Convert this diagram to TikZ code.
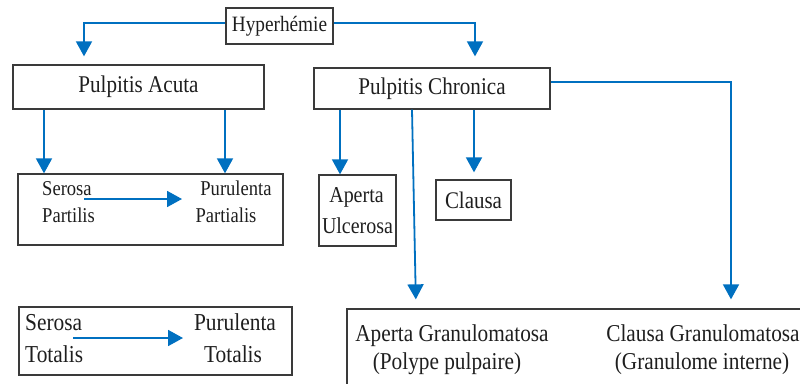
\documentclass[tikz,border=0pt]{standalone}
\usepackage{fontspec}
\setmainfont[FakeStretch=0.88]{Liberation Serif}
\usetikzlibrary{arrows.meta}
\definecolor{arrblue}{HTML}{0070C0}
\definecolor{boxgray}{HTML}{3A3A3A}
\definecolor{txtgray}{HTML}{1E1E1E}
\newcommand\setfs[1]{\fontsize{#1pt}{#1pt}\selectfont}
\begin{document}
\begin{tikzpicture}[x=1pt,y=-1pt,
  box/.style={draw=boxgray,line width=1.3pt,inner sep=0pt,text=txtgray},
  lbl/.style={inner sep=0pt,text=txtgray,anchor=base},
  arr/.style={draw=arrblue,line width=1.8pt,-{Triangle[width=16pt,length=15pt]}},
]
\useasboundingbox (0,0) rectangle (800,383);
\clip (0,0) rectangle (800,383);

% boxes
\node[box,minimum width=107pt,minimum height=36pt] (hyp) at (279.5,26) {\setfs{21.9}Hyperhémie};
\node[box,minimum width=251pt,minimum height=44pt] (acuta) at (138.5,87) {\setfs{24}Pulpitis Acuta};
\node[box,minimum width=236pt,minimum height=41pt] (chron) at (432,88.5) {\setfs{24}Pulpitis Chronica};
\node[box,minimum width=265pt,minimum height=71pt] (part) at (150.5,209.5) {};
\node[box,minimum width=77pt,minimum height=71pt] (ulc) at (357.5,210.5) {};
\node[box,minimum width=75pt,minimum height=40pt] (clausa) at (473.5,200) {\setfs{23.8}Clausa};
\node[box,minimum width=273pt,minimum height=68pt] (tot) at (155.5,341) {};
\node[box,minimum width=483pt,minimum height=91pt] (gran) at (588.5,354.5) {};

% texts
\node[lbl,anchor=base west,font={\setfs{21.1}}] (serP1) at (42,195) {Serosa};
\node[lbl,anchor=base west,font={\setfs{21.1}}] (serP2) at (42,222) {Partilis};
\node[lbl,font={\setfs{21.1}}] (purP1) at (236,195) {Purulenta};
\node[lbl,font={\setfs{21.1}}] (purP2) at (226,222) {Partialis};

\node[lbl,font={\setfs{22.7}}] (ulc1) at (356.5,202) {Aperta};
\node[lbl,font={\setfs{22.7}}] (ulc2) at (357.5,233) {Ulcerosa};

\node[lbl,anchor=base west,font={\setfs{24.3}}] (serT1) at (25,330) {Serosa};
\node[lbl,anchor=base west,font={\setfs{24.3}}] (serT2) at (25,362) {Totalis};
\node[lbl,font={\setfs{24.3}}] (purT1) at (235,330) {Purulenta};
\node[lbl,font={\setfs{24.3}}] (purT2) at (233,362) {Totalis};

\node[lbl,font={\setfs{24.2}}] (g1) at (452,341) {Aperta Granulomatosa};
\node[lbl,font={\setfs{24.2}}] (g2) at (447,369) {(Polype pulpaire)};
\node[lbl,font={\setfs{24.2}}] (g3) at (703,341) {Clausa Granulomatosa};
\node[lbl,font={\setfs{24.2}}] (g4) at (702,369) {(Granulome interne)};

% connectors
\draw[arr,shorten >=8pt] ([yshift=3pt]hyp.west) -| (acuta.north -| 84,0);
\draw[arr,shorten >=11pt] ([yshift=3pt]hyp.east) -| (chron.north -| 475,0);
\draw[arr,shorten >=9pt] ([yshift=6.5pt]chron.east) -| (gran.north -| 731,0);

\draw[arr] (acuta.south -| 44,0) -- (part.north -| 44,0);
\draw[arr] (acuta.south -| 225,0) -- (part.north -| 225,0);

\draw[arr] (chron.south -| 340,0) -- (ulc.north -| 340,0);
\draw[arr,shorten >=7pt] (chron.south -| 474,0) -- (clausa.north -| 474,0);
\draw[arr,shorten >=9pt] (chron.south -| 412,0) -- (gran.north -| 416,0);

\coordinate (pa) at (84,199);
\coordinate (pb) at (182,199);
\draw[arr] (pa) -- (pb);
\coordinate (ta) at (73,338);
\coordinate (tb) at (183,338);
\draw[arr] (ta) -- (tb);
\end{tikzpicture}
\end{document}
